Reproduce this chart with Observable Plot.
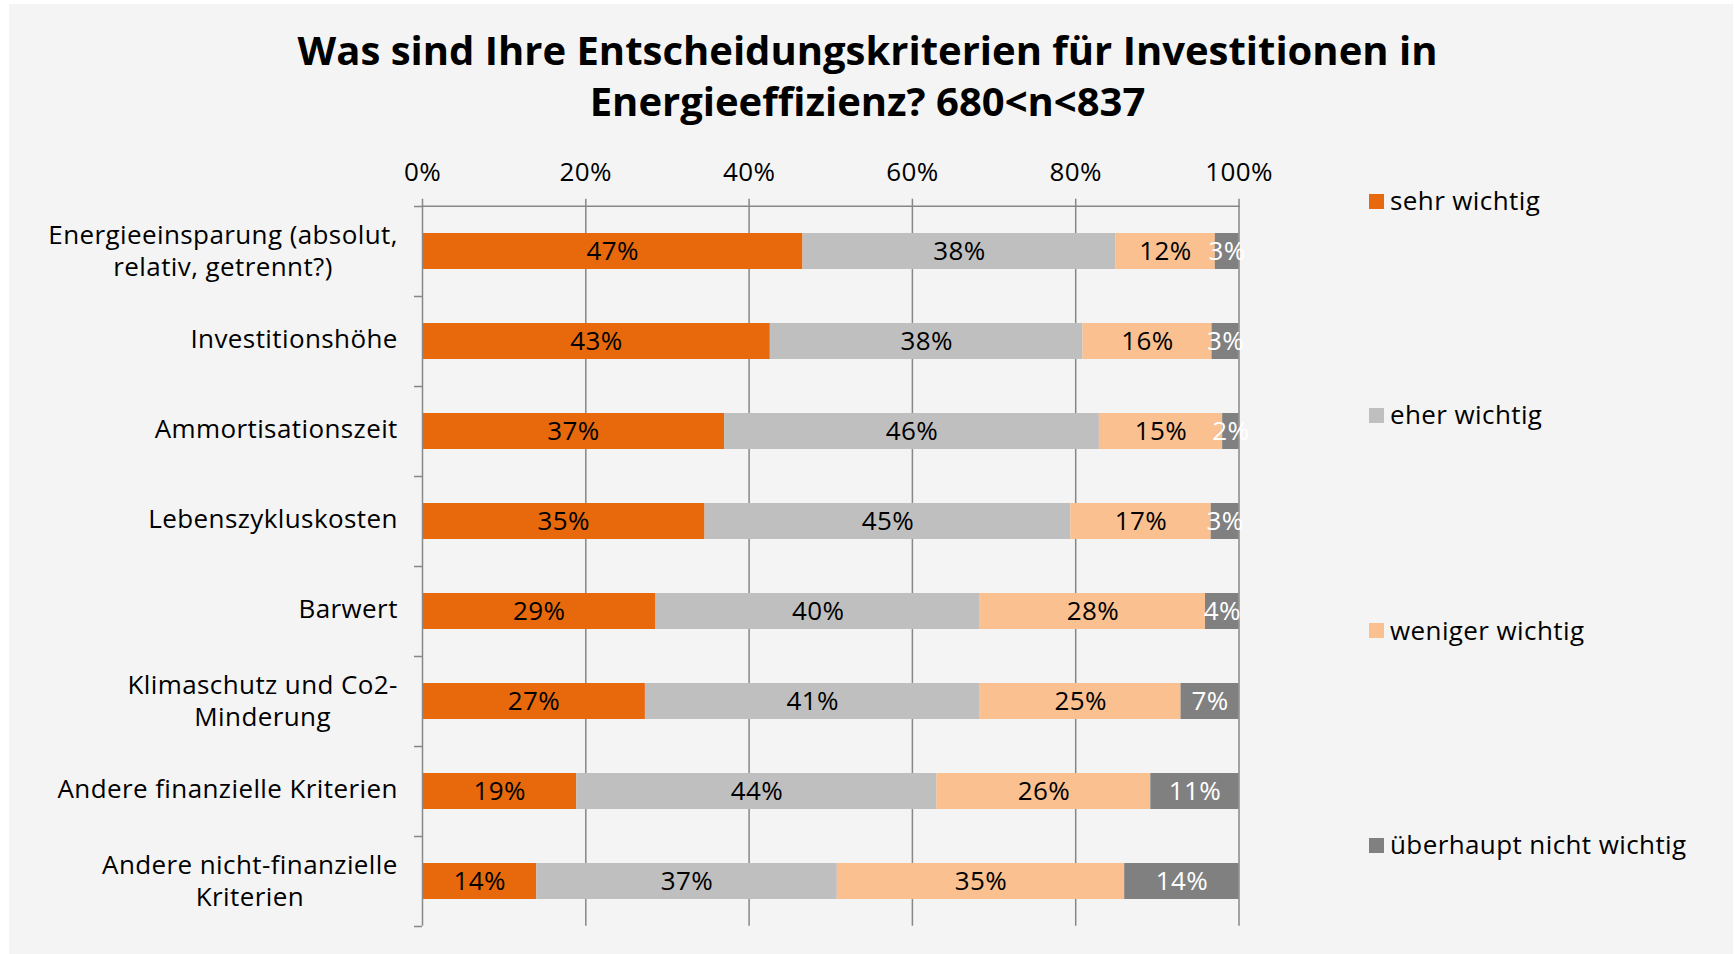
<!DOCTYPE html>
<html>
<head>
<meta charset="utf-8">
<script src="https://cdn.jsdelivr.net/npm/d3@7"></script>
<script src="https://cdn.jsdelivr.net/npm/@observablehq/plot@0.6"></script>
<style>
  html, body { margin: 0; padding: 0; background: #ffffff; width: 1735px; height: 954px; overflow: hidden; font-family: "Open Sans", sans-serif; color: #000; }
  #panel { position: absolute; left: 9px; top: 4px; width: 1724px; height: 950px; background: #f4f4f4; }
  #title { position: absolute; left: 0; top: 24px; width: 1735px; text-align: center; font-weight: bold; font-size: 40px; line-height: 51px; font-stretch: 88%; }
  #chart { position: absolute; left: 0; top: 0; }
  .legend-item { position: absolute; left: 1369px; height: 34px; display: flex; align-items: center; font-size: 26px; line-height: 34px; letter-spacing: 0.4px; white-space: nowrap; }
  .legend-item .sw { width: 15px; height: 15px; margin-right: 6px; margin-top: 2px; }
</style>
</head>
<body>
<div id="panel"></div>
<div id="title"></div>
<div id="chart"></div>
<div id="legend"></div>
<script>
// ---- data ----
const titleLines = ["Was sind Ihre Entscheidungskriterien für Investitionen in", "Energieeffizienz? 680<n<837"];
const categories = [
  "Energieeinsparung (absolut, relativ, getrennt?)",
  "Investitionshöhe",
  "Ammortisationszeit",
  "Lebenszykluskosten",
  "Barwert",
  "Klimaschutz und Co2-Minderung",
  "Andere finanzielle Kriterien",
  "Andere nicht-finanzielle Kriterien"
];
const categoryLabels = [
  "Energieeinsparung (absolut,\nrelativ, getrennt?)",
  "Investitionshöhe",
  "Ammortisationszeit",
  "Lebenszykluskosten",
  "Barwert",
  "Klimaschutz und Co2-\nMinderung",
  "Andere finanzielle Kriterien",
  "Andere nicht-finanzielle\nKriterien"
];
const responses = ["sehr wichtig", "eher wichtig", "weniger wichtig", "überhaupt nicht wichtig"];
const responseColors = ["#e8690b", "#bfbfbf", "#fac090", "#808080"];
const sehrWichtig    = [46.6, 42.6, 37.0, 34.6, 28.6, 27.3, 18.9, 14.0];
const eherWichtig    = [38.3, 38.3, 45.9, 44.8, 39.7, 41.0, 44.1, 36.8];
const wenigerWichtig = [12.2, 15.8, 15.1, 17.2, 27.6, 24.6, 26.2, 35.2];
const nichtWichtig   = [2.9, 3.3, 2.0, 3.4, 4.1, 7.1, 10.8, 14.0];
const xTicks = [0, 20, 40, 60, 80, 100];

// ---- build table ----
const seriesValues = [sehrWichtig, eherWichtig, wenigerWichtig, nichtWichtig];
const data = [];
categories.forEach((c, i) => {
  responses.forEach((r, j) => data.push({category: c, response: r, value: seriesValues[j][i]}));
});
const labelOf = new Map(categories.map((c, i) => [c, categoryLabels[i]]));
const darkResponse = responses[responses.length - 1];
const pct = v => Math.round(v) + "%";

document.getElementById("title").innerHTML = titleLines.map(t => t.replace(/</g, "&lt;")).join("<br>");

const gridColor = "#878787";
const FS = 26;
const LS = 0.4;        // letter spacing
const LABEL_GAP = 24.7; // gap between category labels and the axis

// measure text width for centred multi-line labels
const ctx = document.createElement("canvas").getContext("2d");
ctx.font = FS + "px 'Open Sans'";
const textWidth = s => ctx.measureText(s).width + LS * s.length;

const singleCats = categories.filter(c => !labelOf.get(c).includes("\n"));
const multiCats = categories.filter(c => labelOf.get(c).includes("\n"));
const multiLabelMarks = multiCats.map(c => {
  const w = d3.max(labelOf.get(c).split("\n"), textWidth);
  return Plot.text([c], {
    y: d => d, frameAnchor: "left", textAnchor: "middle",
    dx: -(LABEL_GAP + w / 2), dy: -2,
    text: d => labelOf.get(d), lineHeight: 1.22, fontSize: FS, fill: "#000"
  });
});

const plot = Plot.plot({
  width: 1735,
  height: 954,
  marginLeft: 422,
  marginRight: 496.5,
  marginTop: 205.7,
  marginBottom: 28.3,
  style: {background: "transparent", fontFamily: "'Open Sans', sans-serif", color: "#000", overflow: "visible", letterSpacing: LS + "px"},
  x: {domain: [0, 100]},
  y: {domain: categories, padding: 0},
  color: {domain: responses, range: responseColors},
  marks: [
    Plot.gridX(xTicks.slice(1), {stroke: gridColor, strokeOpacity: 1, strokeWidth: 1.5}),
    Plot.barX(data, Plot.stackX({x: "value", y: "category", fill: "response", z: "response", order: responses, insetTop: 27, insetBottom: 27})),
    Plot.ruleX([0], {stroke: gridColor, strokeWidth: 1.5}),
    Plot.frame({anchor: "top", stroke: gridColor, strokeWidth: 1.5}),
    Plot.axisX(xTicks, {anchor: "top", tickSize: 8, tickPadding: 17, fontSize: FS, stroke: gridColor, strokeWidth: 1.5, fill: "#000", tickFormat: d => d + "%", label: null}),
    Plot.axisY(singleCats, {anchor: "left", tickSize: 0, tickPadding: LABEL_GAP, dy: -2, fontSize: FS, fill: "#000", tickFormat: d => labelOf.get(d), label: null}),
    ...multiLabelMarks,
    Plot.axisY(categories, {anchor: "left", tickSize: 8, dy: -45, stroke: gridColor, strokeWidth: 1.5, fill: "none", label: null}),
    Plot.axisY([categories[categories.length - 1]], {anchor: "left", tickSize: 8, dy: 45, stroke: gridColor, strokeWidth: 1.5, fill: "none", label: null}),
    Plot.text(data, Plot.stackX({x: "value", y: "category", z: "response", order: responses, text: d => d.response === darkResponse ? null : pct(d.value), fill: "#000", fontSize: FS})),
    Plot.text(data, Plot.stackX({x: "value", y: "category", z: "response", order: responses, text: d => d.response === darkResponse ? pct(d.value) : null, fill: "#fff", fontSize: FS}))
  ]
});
document.getElementById("chart").appendChild(plot);

// ---- legend ----
const legendCenters = [202.5, 416.5, 632, 846.7];
const legend = document.getElementById("legend");
responses.forEach((r, i) => {
  const item = document.createElement("div");
  item.className = "legend-item";
  item.style.top = (legendCenters[i] - 19.5) + "px";
  const sw = document.createElement("span");
  sw.className = "sw";
  sw.style.background = responseColors[i];
  const tx = document.createElement("span");
  tx.textContent = r;
  item.appendChild(sw);
  item.appendChild(tx);
  legend.appendChild(item);
});
</script>
</body>
</html>
